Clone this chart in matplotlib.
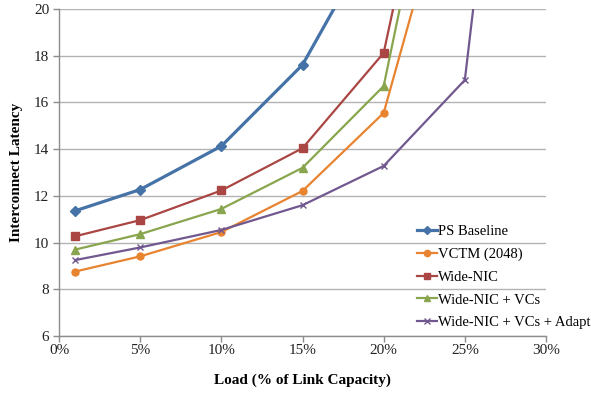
import matplotlib
matplotlib.use("Agg")
import matplotlib.pyplot as plt
from matplotlib.ticker import FuncFormatter

plt.rcParams['font.family'] = ['Liberation Serif', 'DejaVu Serif']

# load in % of link capacity
load_ps = [1, 5, 10, 15, 20]
load = [1, 5, 10, 15, 20, 25]
load_adapt = [1, 5, 10, 15, 20, 25, 30]

ps_baseline = [11.36, 12.27, 14.13, 17.61, 23.8]
vctm = [8.76, 9.41, 10.45, 12.21, 15.55, 28.0]
wide_nic = [10.27, 10.96, 12.23, 14.04, 18.12, 34.3]
wide_nic_vcs = [9.70, 10.36, 11.44, 13.20, 16.70, 33.4]
wide_nic_adapt = [9.25, 9.79, 10.54, 11.60, 13.28, 16.96, 46.5]

x_ticks = [0, 5, 10, 15, 20, 25, 30]
y_ticks = [6, 8, 10, 12, 14, 16, 18, 20]

fig = plt.figure(figsize=(5.91, 3.94), dpi=100)
ax = fig.add_axes([59 / 591, 1 - 336 / 394, (546 - 59) / 591, (336 - 9) / 394])

ax.plot(load_ps, ps_baseline, color='#4572A7', marker='D', markersize=5, linewidth=2.3,
        label='PS Baseline')
ax.plot(load, vctm, color='#E8832F', marker='o', markersize=5, linewidth=1.6,
        label='VCTM (2048)')
ax.plot(load, wide_nic, color='#AA4643', marker='s', markersize=5.5, linewidth=1.6,
        label='Wide-NIC')
ax.plot(load, wide_nic_vcs, color='#89A54E', marker='^', markersize=5.5, linewidth=1.6,
        label='Wide-NIC + VCs')
ax.plot(load_adapt, wide_nic_adapt, color='#71588F', marker='x', markersize=5, linewidth=1.6,
        markeredgewidth=1.0, label='Wide-NIC + VCs + Adapt')

ax.set_xlim(0, 30)
ax.set_ylim(6, 20)
ax.set_xticks(x_ticks)
ax.set_yticks(y_ticks)
ax.xaxis.set_major_formatter(FuncFormatter(lambda v, p: f"{v:.0f}%"))
ax.tick_params(labelsize=11, colors='#222222', length=4, width=1)
ax.tick_params(axis='x', color='#8C8C8C', pad=2)
ax.tick_params(axis='y', color='#8C8C8C', pad=3)

ax.grid(axis='y', color='#B3B3B3', linewidth=1)
ax.set_axisbelow(True)
for side in ('top', 'right'):
    ax.spines[side].set_visible(False)
for side in ('left', 'bottom'):
    ax.spines[side].set_color('#8C8C8C')
    ax.spines[side].set_linewidth(1)

ax.set_xlabel('Load (% of Link Capacity)', fontsize=11, fontweight='bold', labelpad=12)
ax.set_ylabel('Interconnect Latency', fontsize=11, fontweight='bold', labelpad=8)

ax.legend(loc='upper left', bbox_to_anchor=(417 / 591, 1 - 225 / 394),
          bbox_transform=fig.transFigure, frameon=False, fontsize=10.5,
          handlelength=1.35, handletextpad=0.1, labelspacing=0.65,
          borderpad=0, borderaxespad=0, markerscale=0.9)

fig.savefig('out.png', dpi=100)
